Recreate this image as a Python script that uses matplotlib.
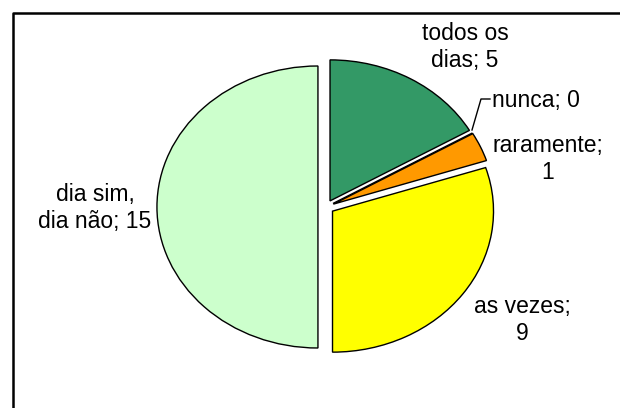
import matplotlib
matplotlib.use("Agg")
import matplotlib.pyplot as plt
from matplotlib.lines import Line2D

plt.rcParams['font.family'] = ['Liberation Sans', 'DejaVu Sans']

categorias = ['todos os\ndias', 'nunca', 'raramente', 'as vezes', 'dia sim,\ndia não']
valores = [5, 0, 1, 9, 15]
cores = ['#339966', '#FF9900', '#FF9900', '#FFFF00', '#CCFFCC']

W, H = 620, 408
fig = plt.figure(figsize=(W / 100, H / 100), dpi=100)
ax = fig.add_axes([0, 0, 1, 1])

# pizza levemente achatada, todas as fatias destacadas
cx, cy, rx, ry = 326, 207, 161, 141
ax.pie(valores, colors=cores, startangle=90, counterclock=False,
       explode=[0.05] * len(valores),
       wedgeprops=dict(edgecolor='black', linewidth=1.0))
ax.set_aspect('auto')
ax.set_xlim(-cx / rx, (W - cx) / rx)
ax.set_ylim(-(H - cy) / ry, cy / ry)
ax.axis('off')


def px(x, y):
    return x / W, 1 - y / H


rotulos = ['%s; %d' % (c, v) for c, v in zip(categorias, valores)]
rotulos[2] = 'raramente;\n%d' % valores[2]
rotulos[3] = 'as vezes;\n%d' % valores[3]

fs = 16.5
pos = [(465, 47), None, (548, 159), (522, 320), (95, 208)]
for r, p in zip(rotulos, pos):
    if p is None:
        continue
    fig.text(*px(*p), r, ha='center', va='center', fontsize=fs,
             linespacing=1.22)

# rótulo da fatia vazia, com linha de chamada
fig.text(*px(492, 100), rotulos[1], ha='left', va='center', fontsize=fs)
fig.add_artist(Line2D([472 / W, 481 / W, 490 / W],
                      [1 - 130 / H, 1 - 99 / H, 1 - 99 / H],
                      color='black', linewidth=1.0))

# moldura do gráfico
fig.add_artist(Line2D([13 / W, 13 / W, 1], [0, 1 - 13 / H, 1 - 13 / H],
                      color='black', linewidth=1.8))

fig.savefig('out.png', dpi=100)
